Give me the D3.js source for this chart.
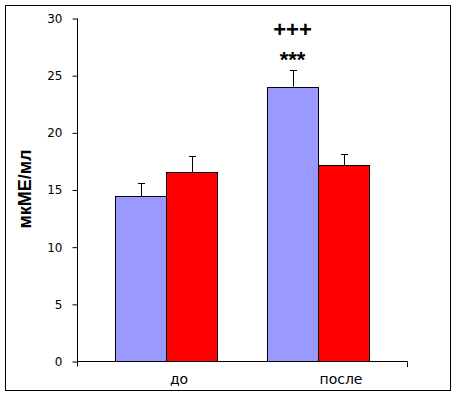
<!DOCTYPE html>
<html>
<head>
<meta charset="utf-8">
<script src="https://cdn.jsdelivr.net/npm/d3@7"></script>
<style>
  html, body { margin: 0; padding: 0; background: #fff; }
  svg { display: block; font-family: "Liberation Sans", Arial, sans-serif; }
</style>
</head>
<body>
<div id="chart"></div>
<script>
const categories = ['до', 'после'];
const seriesNames = ['a', 'b'];
const seriesColors = ['#9999ff', '#ff0000'];
const valuesA = [14.4, 24.0];
const valuesB = [16.5, 17.15];
const errorsA = [1.2, 1.45];
const errorsB = [1.4, 0.95];
const yTicks = [0, 5, 10, 15, 20, 25, 30];
const annotations = [
  { cat: 'после', series: 'a', text: '+++', level: 28.35 },
  { cat: 'после', series: 'a', text: '***', level: 25.7 }
];

const W = 457, H = 396;
const svg = d3.select('#chart').append('svg')
  .attr('width', W).attr('height', H);

// outer frame
svg.append('rect')
  .attr('x', 5.5).attr('y', 5.5)
  .attr('width', 445).attr('height', 385)
  .attr('fill', '#fff').attr('stroke', '#000').attr('stroke-width', 1);

const axisLeft = 77, axisRight = 407;
const y = d3.scaleLinear().domain([0, 30]).range([361, 18]);

const x = d3.scaleBand().domain(categories).range([90, 394]).padding(0);
const xs = d3.scaleBand().domain(seriesNames)
  .range([x.bandwidth() / 2 - 51, x.bandwidth() / 2 + 51]);
const labelX = d3.scalePoint().domain(categories).range([179, 341]);

const data = categories.map((c, i) => ({
  cat: c,
  bars: [
    { s: 'a', v: valuesA[i], e: errorsA[i], color: seriesColors[0] },
    { s: 'b', v: valuesB[i], e: errorsB[i], color: seriesColors[1] }
  ]
}));

const groups = svg.append('g').selectAll('g')
  .data(data)
  .join('g')
  .attr('transform', d => `translate(${x(d.cat)},0)`);

// error bars (drawn behind bars)
const err = groups.selectAll('g.err')
  .data(d => d.bars)
  .join('g')
  .attr('class', 'err');
err.append('line')
  .attr('x1', d => Math.round(xs(d.s) + xs.bandwidth() / 2) + 0.5)
  .attr('x2', d => Math.round(xs(d.s) + xs.bandwidth() / 2) + 0.5)
  .attr('y1', d => y(d.v))
  .attr('y2', d => Math.round(y(d.v + d.e)) + 0.5)
  .attr('stroke', '#000');
err.append('line')
  .attr('x1', d => Math.round(xs(d.s) + xs.bandwidth() / 2) - 3)
  .attr('x2', d => Math.round(xs(d.s) + xs.bandwidth() / 2) + 4)
  .attr('y1', d => Math.round(y(d.v + d.e)) + 0.5)
  .attr('y2', d => Math.round(y(d.v + d.e)) + 0.5)
  .attr('stroke', '#000');

groups.selectAll('rect')
  .data(d => d.bars)
  .join('rect')
  .attr('x', d => Math.round(xs(d.s)) + 0.5)
  .attr('y', d => Math.round(y(d.v)) + 0.5)
  .attr('width', xs.bandwidth())
  .attr('height', d => Math.round(y(0)) - Math.round(y(d.v)))
  .attr('fill', d => d.color)
  .attr('stroke', '#000')
  .attr('stroke-width', 1);

// Y axis
const yAxis = d3.axisLeft(y).tickValues(yTicks).tickSize(5).tickPadding(10);
const yg = svg.append('g')
  .attr('transform', `translate(${axisLeft + 0.5},0.5)`)
  .call(yAxis);
yg.select('.domain').attr('d', `M0,${y(30)}V${y(0) + 5}`).attr('stroke', '#000');
yg.selectAll('.tick line').attr('stroke', '#000');
yg.selectAll('text')
  .attr('fill', '#000')
  .attr('font-size', '12px')
  .attr('font-family', '"DejaVu Sans", Verdana, sans-serif');

// X axis line
svg.append('path')
  .attr('d', `M${axisLeft},${y(0) + 0.5}H${axisRight + 0.5}V${y(0) + 6}`)
  .attr('fill', 'none').attr('stroke', '#000');

svg.append('g').selectAll('text')
  .data(categories)
  .join('text')
  .attr('x', d => labelX(d))
  .attr('y', 384)
  .attr('text-anchor', 'middle')
  .attr('font-size', '14px')
  .attr('font-family', '"DejaVu Sans", Verdana, sans-serif')
  .text(d => d);

// Y title
svg.append('text')
  .attr('transform', 'translate(31,189) rotate(-90)')
  .attr('text-anchor', 'middle')
  .attr('font-size', '18px')
  .attr('font-weight', 'bold')
  .text('мкМЕ/мл');

// significance marks
svg.append('g').selectAll('text')
  .data(annotations)
  .join('text')
  .attr('x', d => x(d.cat) + xs(d.series) + xs.bandwidth() / 2)
  .attr('y', d => y(d.level))
  .attr('text-anchor', 'middle')
  .attr('font-size', '22px')
  .attr('font-weight', 'bold')
  .text(d => d.text);
</script>
</body>
</html>
